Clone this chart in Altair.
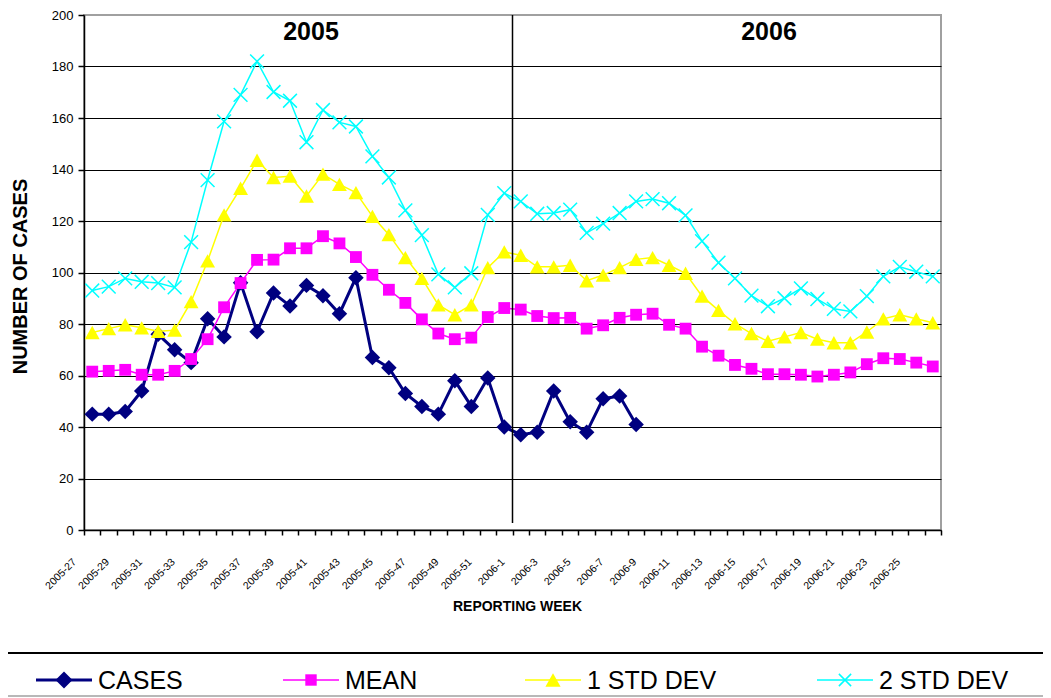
import altair as alt
import pandas as pd

FONT = "Liberation Sans, Arial, sans-serif"

weeks = ["2005-27", "2005-28", "2005-29", "2005-30", "2005-31", "2005-32", "2005-33", "2005-34",
         "2005-35", "2005-36", "2005-37", "2005-38", "2005-39", "2005-40", "2005-41", "2005-42",
         "2005-43", "2005-44", "2005-45", "2005-46", "2005-47", "2005-48", "2005-49", "2005-50",
         "2005-51", "2005-52", "2006-1", "2006-2", "2006-3", "2006-4", "2006-5", "2006-6",
         "2006-7", "2006-8", "2006-9", "2006-10", "2006-11", "2006-12", "2006-13", "2006-14",
         "2006-15", "2006-16", "2006-17", "2006-18", "2006-19", "2006-20", "2006-21", "2006-22",
         "2006-23", "2006-24", "2006-25", "2006-26"]

cases = [45, 45, 46, 54, 76, 70, 65, 82, 75, 96, 77, 92, 87, 95, 91, 84, 98, 67, 63, 53,
         48, 45, 58, 48, 59, 40, 37, 38, 54, 42, 38, 51, 52, 41]

mean = [61.5, 61.8, 62.2, 60.3, 60.3, 61.8, 66.4, 74.1, 86.5, 95.9,
        104.9, 105, 109.4, 109.4, 114.1, 111.3, 106, 99.1, 93.3, 88.2,
        81.8, 76.3, 74.1, 74.7, 82.7, 86.2, 85.6, 83.1, 82.3, 82.4,
        78.2, 79.5, 82.4, 83.6, 84, 79.7, 78.2, 71.2, 67.7, 64.1,
        62.6, 60.5, 60.5, 60.3, 59.6, 60.3, 61.2, 64.4, 66.7, 66.4,
        65, 63.5]

std1 = [76.7, 78.2, 79.7, 78.5, 77.2, 77.6, 88.7, 104.5, 122.4, 132.7,
        143.6, 136.9, 137.4, 129.7, 138.2, 134.2, 131, 121.8, 114.7, 105.8,
        97.7, 87.4, 83.6, 87.4, 101.9, 108, 106.7, 102.2, 102.2, 102.8,
        96.8, 99, 101.9, 105.1, 105.8, 102.8, 99.7, 90.8, 85.3, 80.1,
        76.3, 73.3, 75, 76.7, 74.1, 72.7, 72.7, 76.9, 82, 83.6,
        82, 80.5]

std2 = [93, 94.5, 97.7, 96.4, 95.9, 94.2, 111.8, 135.9, 158.7, 169,
        182, 170.1, 166.7, 150.6, 163.1, 158.3, 156.7, 145.1, 136.9, 124.1,
        114.5, 99.3, 94.2, 99.7, 122.4, 130.8, 127.6, 122.8, 123.1, 124.4,
        115.4, 119, 123.1, 127.6, 128.5, 126.9, 122.2, 112.2, 103.8, 97.7,
        91, 86.9, 90, 93.8, 89.7, 85.9, 84.9, 90.8, 98.5, 102.2,
        100.3, 98.5]

series_names = ["CASES", "MEAN", "1 STD DEV", "2 STD DEV"]
series_colors = ["#000080", "#ff00ff", "#ffff00", "#00ffff"]
y_ticks = [0, 20, 40, 60, 80, 100, 120, 140, 160, 180, 200]
year_labels = ["2005", "2006"]

rows = []
for name, vals in zip(series_names, [cases, mean, std1, std2]):
    for w, v in zip(weeks, vals):
        rows.append({"week": w, "series": name, "value": v})
df = pd.DataFrame(rows)

TRI = "M0,-0.9L1,0.9H-1Z"
XMARK = "M-1,-1L1,1M-1,1L1,-1"

x_scale = alt.Scale(type="band", domain=weeks, paddingInner=0, paddingOuter=0)
x_axis = alt.Axis(
    tickBand="extent", tickSize=5, tickColor="black", tickWidth=1.5,
    domainColor="black", domainWidth=1.5, grid=False,
    labelAngle=315, labelAlign="right", labelBaseline="middle",
    labelFont=FONT, labelFontSize=10.5, labelColor="black",
    labelOffset=-18, labelPadding=25, labelOverlap=False,
    labelExpr="toNumber(split(datum.value, '-')[1]) % 2 == 1 ? datum.value : ''",
    title="REPORTING WEEK", titleFont=FONT, titleFontSize=14, titleFontWeight="bold",
    titleColor="black", titleX=433, titleY=76, titleAlign="center", titleBaseline="middle",
)
y_axis = alt.Axis(
    values=y_ticks, tickSize=6, tickColor="black", tickWidth=1.5,
    domainColor="black", domainWidth=1.5,
    grid=True, gridWidth=1,
    gridColor=alt.condition("datum.value == 200", alt.value("#a0a0a0"), alt.value("black")),
    labelFont=FONT, labelFontSize=13, labelColor="black", labelPadding=5,
    title="NUMBER OF CASES", titleFont=FONT, titleFontSize=20, titleFontWeight="bold",
    titleColor="black", titleAngle=270, titleX=-64, titleY=261,
    titleAlign="center", titleBaseline="middle",
)

x_enc = alt.X("week:O", scale=x_scale, axis=x_axis)
y_enc = alt.Y("value:Q", scale=alt.Scale(domain=[0, 200], nice=False), axis=y_axis)
color_enc = alt.Color("series:N", scale=alt.Scale(domain=series_names, range=series_colors),
                      legend=None)

marker_specs = {
    "CASES": dict(shape="diamond", size=240, filled=True),
    "MEAN": dict(shape="square", size=140, filled=True),
    "1 STD DEV": dict(shape=TRI, size=220, filled=True),
    "2 STD DEV": dict(shape=XMARK, size=190, filled=False, strokeWidth=1.5),
}
legend_marker_specs = {
    "CASES": dict(shape="diamond", size=290, filled=True),
    "MEAN": dict(shape="square", size=130, filled=True),
    "1 STD DEV": dict(shape=TRI, size=230, filled=True),
    "2 STD DEV": dict(shape=XMARK, size=150, filled=False, strokeWidth=1.5),
}
line_widths = {"CASES": 3, "MEAN": 1.5, "1 STD DEV": 1.5, "2 STD DEV": 1.5}

base = alt.Chart(df)
layers = []
for name in series_names:
    sub = base.transform_filter(alt.datum.series == name)
    layers.append(sub.mark_line(strokeWidth=line_widths[name]).encode(
        x=x_enc, y=y_enc, color=color_enc))
    layers.append(sub.mark_point(opacity=1, **marker_specs[name]).encode(
        x=x_enc, y=y_enc, color=color_enc))

sep = alt.Chart(pd.DataFrame({"week": ["2006-1"]})).mark_rule(
    color="black", strokeWidth=1.5).encode(
    x=alt.X("week:O", scale=x_scale, axis=x_axis, bandPosition=0),
    y=alt.value(0), y2=alt.value(508))

t2005 = alt.Chart().mark_text(
    text=year_labels[0], font=FONT, fontSize=25, fontWeight="bold", color="black",
    align="center", baseline="middle").encode(x=alt.value(227), y=alt.value(17))
t2006 = alt.Chart().mark_text(
    text=year_labels[1], font=FONT, fontSize=25, fontWeight="bold", color="black",
    align="center", baseline="middle").encode(x=alt.value(685), y=alt.value(17))

top_line = alt.Chart().mark_rule(color="black", strokeWidth=2).encode(
    x=alt.value(-76), x2=alt.value(959), y=alt.value(638))
bottom_line = alt.Chart().mark_rule(color="#a0a0a0", strokeWidth=1.5).encode(
    x=alt.value(-76), x2=alt.value(959), y=alt.value(681))

# legend (drawn entries): line segment + marker + label for each series
LEG_Y = 665
leg_starts = [-48, 199, 441, 733]
legend_layers = []
for name, col, x0 in zip(series_names, series_colors, leg_starts):
    legend_layers.append(alt.Chart().mark_rule(color=col, strokeWidth=line_widths[name]).encode(
        x=alt.value(x0), x2=alt.value(x0 + 56), y=alt.value(LEG_Y)))
    legend_layers.append(alt.Chart().mark_point(
        opacity=1, color=col, **legend_marker_specs[name]).encode(
        x=alt.value(x0 + 28), y=alt.value(LEG_Y)))
    legend_layers.append(alt.Chart().mark_text(
        text=name, font=FONT, fontSize=25, color="black", align="left",
        baseline="middle").encode(x=alt.value(x0 + 62), y=alt.value(LEG_Y + 1)))

chart = alt.layer(*layers, sep, t2005, t2006, top_line, bottom_line, *legend_layers).properties(
    width=857, height=515,
    autosize=alt.AutoSizeParams(type="none"),
    padding={"left": 76, "top": 7, "right": 102, "bottom": 168},
    background="white",
).configure_view(stroke="#a0a0a0", strokeWidth=2)

chart.save("out.html", embed_options={"renderer": "svg", "actions": False})
